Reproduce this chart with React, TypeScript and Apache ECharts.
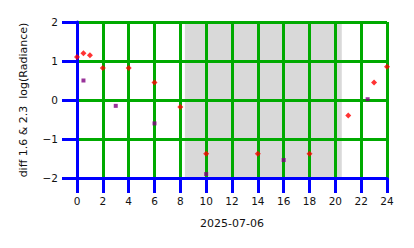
import React, { useEffect, useRef } from "react";
import * as echarts from "echarts";

const xTicks = [0, 2, 4, 6, 8, 10, 12, 14, 16, 18, 20, 22, 24];
const yTicks = [-2, -1, 0, 1, 2];
const xAxisTitle = "2025-07-06";
const yAxisTitle = "diff 1.6 & 2.3  log(Radiance)";
const shadedSpan = [8.35, 20.5];

const redSeries: number[][] = [
  [0.0, 1.1], [0.5, 1.2], [1.0, 1.15], [2.0, 0.82], [4.0, 0.82], [6.0, 0.45], [8.0, -0.18],
  [10.0, -1.38], [14.0, -1.38], [18.0, -1.38], [21.0, -0.4], [23.0, 0.45], [24.0, 0.85],
];
const purpleSeries: number[][] = [
  [0.5, 0.5], [3.0, -0.15], [6.0, -0.6], [10.0, -1.9], [16.0, -1.54], [22.5, 0.02],
];

const FONT = "DejaVu Sans";
const fmt = (v: number) => (v < 0 ? "\u2212" + String(-v) : String(v));

export default function App() {
  const ref = useRef<HTMLDivElement>(null);
  useEffect(() => {
    if (!ref.current) return;
    const chart = echarts.init(ref.current, undefined, { renderer: "svg" });
    chart.setOption({
      animation: false,
      backgroundColor: "#ffffff",
      grid: { left: 77, top: 22, width: 310, height: 156 },
      xAxis: {
        type: "value",
        position: "bottom",
        min: xTicks[0],
        max: xTicks[xTicks.length - 1],
        interval: 2,
        name: xAxisTitle,
        nameLocation: "middle",
        nameGap: 40,
        nameTextStyle: { fontFamily: FONT, fontSize: 11, color: "#111" },
        axisLine: { show: true, onZero: false, lineStyle: { color: "#0000ff", width: 3 } },
        axisTick: { show: true, length: 15, lineStyle: { color: "#0000ff", width: 3 } },
        axisLabel: { margin: 17, fontFamily: FONT, fontSize: 10.5, color: "#111", formatter: fmt },
        splitLine: { show: true, lineStyle: { color: "#00aa00", width: 3 } },
      },
      yAxis: {
        type: "value",
        position: "left",
        min: yTicks[0],
        max: yTicks[yTicks.length - 1],
        interval: 1,
        name: yAxisTitle,
        nameLocation: "middle",
        nameGap: 48,
        nameTextStyle: { fontFamily: FONT, fontSize: 11, color: "#111" },
        axisLine: { show: true, onZero: false, lineStyle: { color: "#0000ff", width: 3 } },
        axisTick: { show: true, length: 15, lineStyle: { color: "#0000ff", width: 3 } },
        axisLabel: { margin: 19, fontFamily: FONT, fontSize: 10.5, color: "#111", formatter: fmt },
        splitLine: { show: true, lineStyle: { color: "#00aa00", width: 3 } },
      },
      series: [
        {
          type: "scatter",
          data: redSeries,
          symbol: "diamond",
          symbolSize: 6,
          z: 4,
          itemStyle: { color: "#ff0000" },
          markArea: {
            silent: true,
            z: -5,
            itemStyle: { color: "#d9d9d9" },
            data: [[{ xAxis: shadedSpan[0] }, { xAxis: shadedSpan[1] }]],
          },
        },
        { type: "scatter", data: purpleSeries, symbol: "rect", symbolSize: 4, z: 4, itemStyle: { color: "#800080" } },
      ],
    });
    return () => chart.dispose();
  }, []);
  return <div ref={ref} style={{ position: "fixed", left: 0, top: 0, width: 414, height: 248, background: "#fff" }} />;
}
